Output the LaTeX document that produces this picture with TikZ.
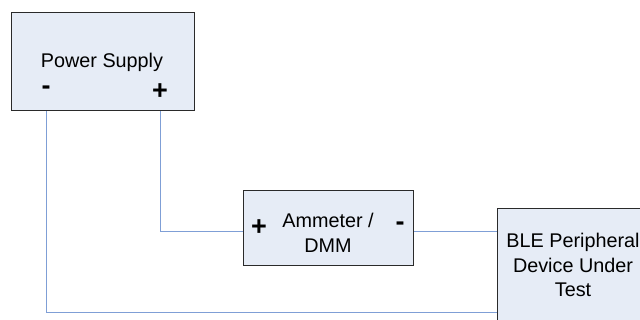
\documentclass[tikz,border=0pt]{standalone}
\usepackage{fontspec}
\setmainfont{Liberation Sans}
\definecolor{boxfill}{HTML}{E6ECF6}
\definecolor{wirecol}{HTML}{7F9FD6}
\definecolor{boxline}{HTML}{2A2A2A}
\begin{document}
\begin{tikzpicture}[x=1pt,y=-1pt,
  box/.style={draw=boxline,fill=boxfill,line width=1pt,inner sep=0pt},
  lbl/.style={font=\fontsize{19.8}{24.5}\selectfont,align=center,inner sep=0pt},
  sign/.style={font=\fontsize{27}{27}\selectfont\bfseries,inner sep=0pt},
  wire/.style={draw=wirecol,line width=1pt}]
\useasboundingbox (0,0) rectangle (640,320);
\clip (0,0) rectangle (640,320);
\coordinate (j1) at (0,232);
\coordinate (j2) at (0,313);
% boxes
\node[box,minimum width=183pt,minimum height=98pt,anchor=north west] (ps) at (11,12) {};
\node[box,minimum width=170pt,minimum height=75pt,anchor=north west] (am) at (243,190) {};
\node[box,minimum width=170pt,minimum height=130pt,anchor=north west] (ble) at (497,208) {};
% texts
\node[lbl] (pst) at (102,62) {Power Supply};
\node[sign] (minus) at (46,90) {-};
\node[sign] (plus) at (160,92) {+};
\node[lbl] (amt) at (328,233) {Ammeter /\\DMM};
\node[sign] (amp) at (259,228) {+};
\node[sign] (amm) at (400,226) {-};
\node[lbl] (blet) at (573,265) {BLE Peripheral\\Device Under\\Test};
% wires
\draw[wire] (ps.south -| plus) |- (am.west |- j1);
\draw[wire] (am.east |- j1) -- (ble.west |- j1);
\draw[wire] (ps.south -| minus) |- (ble.west |- j2);
\end{tikzpicture}
\end{document}
